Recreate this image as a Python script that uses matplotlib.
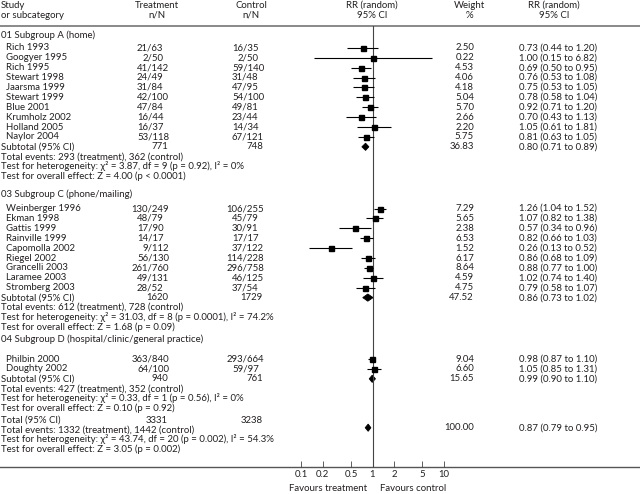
import matplotlib
matplotlib.use('Agg')
import matplotlib.pyplot as plt
from matplotlib.ticker import FixedLocator, FixedFormatter, NullLocator

# ---- study level data ----
study = ['Rich 1993', 'Googyer 1995', 'Rich 1995', 'Stewart 1998', 'Jaarsma 1999',
         'Stewart 1999', 'Blue 2001', 'Krumholz 2002', 'Holland 2005', 'Naylor 2004',
         'Weinberger 1996', 'Ekman 1998', 'Gattis 1999', 'Rainville 1999', 'Capomolla 2002',
         'Riegel 2002', 'Grancelli 2003', 'Laramee 2003', 'Stromberg 2003',
         'Philbin 2000', 'Doughty 2002']
group = [0] * 10 + [1] * 9 + [2] * 2
treat_n = [21, 2, 41, 24, 31, 42, 47, 16, 16, 53, 130, 48, 17, 14, 9, 56, 261, 49, 28, 363, 64]
treat_N = [63, 50, 142, 49, 84, 100, 84, 44, 37, 118, 249, 79, 90, 17, 112, 130, 760, 131, 52, 840, 100]
ctrl_n = [16, 2, 59, 31, 47, 54, 49, 23, 14, 67, 106, 45, 30, 17, 37, 114, 296, 46, 37, 293, 59]
ctrl_N = [35, 50, 140, 48, 95, 100, 81, 44, 34, 121, 255, 79, 91, 17, 122, 228, 758, 125, 54, 664, 97]
weight = [2.50, 0.22, 4.53, 4.06, 4.18, 5.04, 5.70, 2.66, 2.20, 5.75,
          7.29, 5.65, 2.38, 6.53, 1.52, 6.17, 8.64, 4.59, 4.75, 9.04, 6.60]
rr = [0.73, 1.00, 0.69, 0.76, 0.75, 0.78, 0.92, 0.70, 1.05, 0.81,
      1.26, 1.07, 0.57, 0.82, 0.26, 0.86, 0.88, 1.02, 0.79, 0.98, 1.05]
rr_lo = [0.44, 0.15, 0.50, 0.53, 0.53, 0.58, 0.71, 0.43, 0.61, 0.63,
         1.04, 0.82, 0.34, 0.66, 0.13, 0.68, 0.77, 0.74, 0.58, 0.87, 0.85]
rr_hi = [1.20, 6.82, 0.95, 1.08, 1.05, 1.04, 1.20, 1.13, 1.81, 1.05,
         1.52, 1.38, 0.96, 1.03, 0.52, 1.09, 1.00, 1.40, 1.07, 1.10, 1.31]

# ---- subgroup summaries ----
group_names = ['01 Subgroup A (home)', '03 Subgroup C (phone/mailing)',
               '04 Subgroup D (hospital/clinic/general practice)']
sub_treat_N = [771, 1620, 940]
sub_ctrl_N = [748, 1729, 761]
sub_weight = [36.83, 47.52, 15.65]
sub_rr = [0.80, 0.86, 0.99]
sub_lo = [0.71, 0.73, 0.90]
sub_hi = [0.89, 1.02, 1.10]
sub_events = [(293, 362), (612, 728), (427, 352)]
sub_het = [('3.87', 9, '0.92', '0%'), ('31.03', 8, '0.0001', '74.2%'), ('0.33', 1, '0.56', '0%')]
sub_z = [('4.00', '< 0.0001'), ('1.68', '= 0.09'), ('0.10', '= 0.92')]

# ---- overall ----
tot_treat_N, tot_ctrl_N = 3331, 3238
tot_weight, tot_rr, tot_lo, tot_hi = 100.00, 0.87, 0.79, 0.95
tot_events = (1332, 1442)
tot_het = ('43.74', 20, '0.002', '54.3%')
tot_z = ('3.05', '= 0.002')

xticks = [0.1, 0.2, 0.5, 1, 2, 5, 10]
xtick_labels = ['0.1', '0.2', '0.5', '1', '2', '5', '10']

# ---- layout (pixels from top) ----
W, H = 640, 494
TOP_LINE, AXIS_Y = 26, 467
X0, X1 = 301, 444            # pixel span of 0.1 .. 10
HEAD_Y = [35.5, 194.5, 339.5]
HEAD_GAP = [12.3, 14.0, 19.5]
STEP, LINE = 9.9, 9.8
SLASH_T, SLASH_C = 148, 243
TOT_T, TOT_C = 168, 263
X_W, X_RR = 474, 519
TXT = '#231f20'
FS = 6.9

plt.rcParams['font.family'] = ['Lato', 'DejaVu Sans']
plt.rcParams['font.size'] = FS

fig = plt.figure(figsize=(W / 100, H / 100), dpi=100)
ax = fig.add_axes([0, 0, 1, 1])
ax.set_xlim(0, W)
ax.set_ylim(H, 0)
ax.axis('off')

# digit width (digits are tabular), used to line the n/N values up on the slash
renderer = fig.canvas.get_renderer()
probe = ax.text(0, 0, '0000000000')
DIGIT = probe.get_window_extent(renderer).width / 10
probe.remove()

fax = fig.add_axes([X0 / W, (H - AXIS_Y) / H, (X1 - X0) / W, (AXIS_Y - TOP_LINE) / H])
fax.patch.set_visible(False)
fax.set_xscale('log')
fax.set_xlim(0.1, 10)
fax.set_ylim(AXIS_Y, TOP_LINE)
for s in ['top', 'left', 'right', 'bottom']:
    fax.spines[s].set_visible(False)
fax.yaxis.set_major_locator(NullLocator())
fax.xaxis.set_major_locator(FixedLocator(xticks))
fax.xaxis.set_major_formatter(FixedFormatter(xtick_labels))
fax.xaxis.set_minor_locator(NullLocator())
fax.tick_params(axis='x', direction='in', length=4.5, width=0.6, pad=2.5,
                colors='#444', labelcolor=TXT, labelsize=FS)


def txt(x, y, s, ha='left'):
    ax.text(x, y, s, ha=ha, va='center', color=TXT)


def nN(x, y, n, N):
    txt(x - len(str(n)) * DIGIT, y, f'{n}/{N}')


def ci_text(r, lo, hi):
    return f'{r:.2f} ({lo:.2f} to {hi:.2f})'


def stats_lines(y, events, het, z):
    txt(1, y, f'Total events: {events[0]} (treatment), {events[1]} (control)')
    txt(1, y + LINE, f'Test for heterogeneity: \u03c7\u00b2 = {het[0]}, df = {het[1]} (p = {het[2]}), I\u00b2 = {het[3]}')
    txt(1, y + 2 * LINE, f'Test for overall effect: Z = {z[0]} (p {z[1]})')
    return y + 2 * LINE


def diamond(y, r, lo, hi):
    fax.fill([lo, r, hi, r], [y, y - 3.6, y, y + 3.6], color='black', lw=0.6, clip_on=False)


# header
txt(1, 5, 'Study')
txt(1, 15.5, 'or subcategory')
for x, a, b in [(157, 'Treatment', 'n/N'), (251, 'Control', 'n/N'), (372, 'RR (random)', '95% CI'),
                (469, 'Weight', '%'), (554, 'RR (random)', '95% CI')]:
    txt(x, 5, a, ha='center')
    txt(x, 15.5, b, ha='center')
ax.axhline(TOP_LINE, color='#808080', lw=1.3)
ax.axhline(AXIS_Y, color='#555555', lw=1.0)
fax.axvline(1, color='#444444', lw=0.8)

last = None
for g in range(3):
    y = HEAD_Y[g]
    txt(1, y, group_names[g])
    y += HEAD_GAP[g]
    idx = [i for i in range(len(study)) if group[i] == g]
    ys = []
    for k, i in enumerate(idx):
        yi = y + k * STEP
        ys.append(yi)
        txt(6, yi, study[i])
        nN(SLASH_T, yi, treat_n[i], treat_N[i])
        nN(SLASH_C, yi, ctrl_n[i], ctrl_N[i])
        txt(X_W, yi, f'{weight[i]:.2f}', ha='right')
        txt(X_RR, yi, ci_text(rr[i], rr_lo[i], rr_hi[i]))
    fax.hlines(ys, [rr_lo[i] for i in idx], [rr_hi[i] for i in idx], color='black', lw=0.8)
    fax.plot([rr[i] for i in idx], ys, 's', color='black', ms=3.6, clip_on=False)
    ysub = ys[-1] + STEP
    txt(1, ysub, 'Subtotal (95% CI)')
    txt(TOT_T, ysub, str(sub_treat_N[g]), ha='right')
    txt(TOT_C, ysub, str(sub_ctrl_N[g]), ha='right')
    txt(X_W, ysub, f'{sub_weight[g]:.2f}', ha='right')
    txt(X_RR, ysub, ci_text(sub_rr[g], sub_lo[g], sub_hi[g]))
    diamond(ysub, sub_rr[g], sub_lo[g], sub_hi[g])
    last = stats_lines(ysub + LINE, sub_events[g], sub_het[g], sub_z[g])

# overall total
yt = last + 12
txt(1, yt, 'Total (95% CI)')
txt(TOT_T, yt, str(tot_treat_N), ha='right')
txt(TOT_C, yt, str(tot_ctrl_N), ha='right')
yd = yt + 7.5
txt(X_W, yd, f'{tot_weight:.2f}', ha='right')
txt(X_RR, yd, ci_text(tot_rr, tot_lo, tot_hi))
diamond(yd, tot_rr, tot_lo, tot_hi)
stats_lines(yt + 9.4, tot_events, tot_het, tot_z)

fax.text(0.85, 488, 'Favours treatment', ha='right', va='center', color=TXT, clip_on=False)
fax.text(1.28, 488, 'Favours control', ha='left', va='center', color=TXT, clip_on=False)

fig.savefig('out.png', dpi=100)
